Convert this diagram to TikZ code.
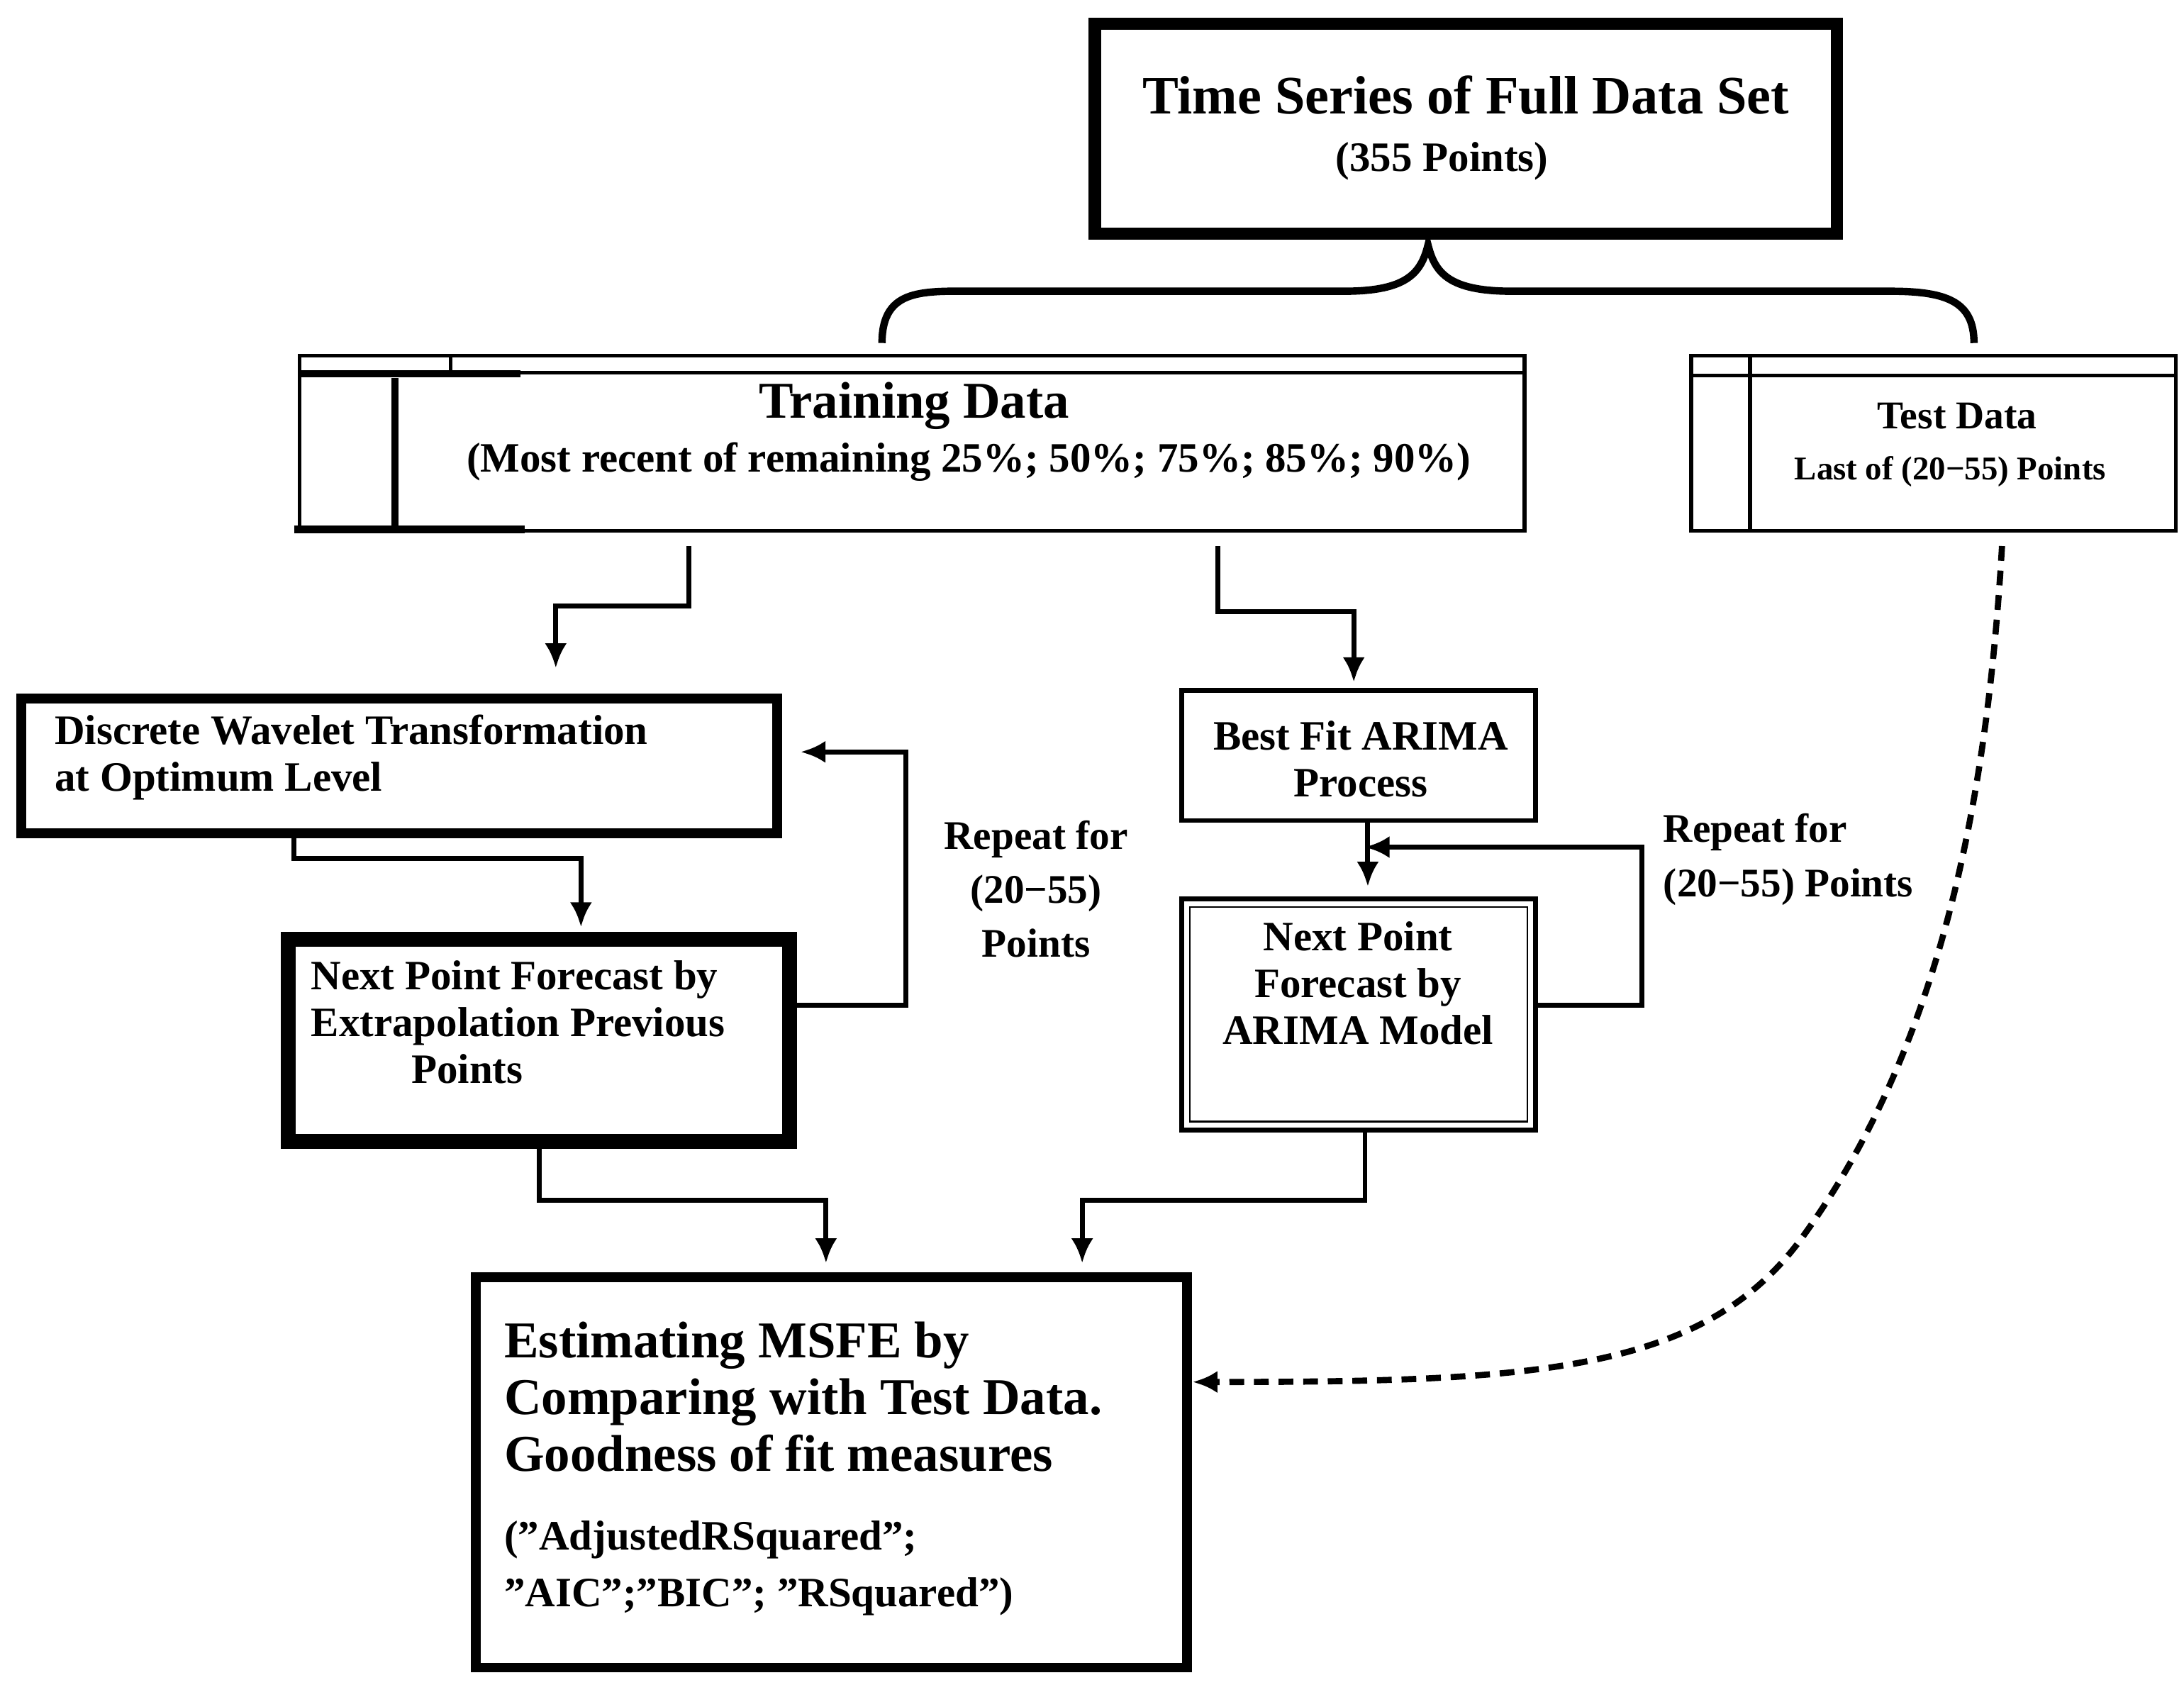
\documentclass[tikz,border=0pt]{standalone}
\usepackage{fontspec}
\setmainfont{Liberation Serif}[Ligatures=ResetAll]
\usetikzlibrary{arrows.meta}
\begin{document}
\begin{tikzpicture}[x=0.02cm,y=-0.02cm,font=\bfseries,
 box/.style={draw,inner sep=0pt,outer sep=0pt,anchor=north west},
 arr/.style={line width=2pt,-{Latex[length=10pt,width=9pt]}},
 ln/.style={line width=2pt}]
\useasboundingbox[fill=white] (0,0) rectangle (1560,1203);
% top box
\node[box,line width=5pt,minimum width=530*0.02cm,minimum height=150*0.02cm] (top) at (782,17) {};
\node[font=\bfseries\fontsize{22}{25}\selectfont] (t1) at (1047,68) {Time Series of Full Data Set};
\node[font=\bfseries\fontsize{17}{20}\selectfont] (t2) at (1030,115) {(355 Points)};
% brace
\draw[line width=3pt] (630,245) .. controls (630,205) and (660,208) .. (700,208) -- (960,208) .. controls (1005,208) and (1015,195) .. (1020,175) .. controls (1025,195) and (1035,208) .. (1080,208) -- (1350,208) .. controls (1390,208) and (1410,215) .. (1410,245);
% training box
\node[box,line width=1.5pt,minimum width=875*0.02cm,minimum height=125*0.02cm] (train) at (214,254) {};
\draw[line width=1.5pt] (214,266) -- (1089,266);
\draw[line width=1.5pt] (322,254) -- (322,266);
\draw[line width=3pt] (213,267) -- (372,267);
\draw[line width=3pt] (210,378) -- (375,378);
\draw[line width=3pt] (282,270) -- (282,378);
\node[font=\bfseries\fontsize{21}{25}\selectfont] (tr1) at (653,290) {Training Data};
\node[font=\bfseries\fontsize{17}{19}\selectfont] (tr2) at (692,330) {(Most recent of remaining 25\%; 50\%; 75\%; 85\%; 90\%)};
% test box
\node[box,line width=1.5pt,minimum width=346*0.02cm,minimum height=125*0.02cm] (test) at (1208,254) {};
\draw[line width=1.5pt] (1208,268) -- (1554,268);
\draw[line width=1.5pt] (1250,254) -- (1250,379);
\node[font=\bfseries\fontsize{16}{19}\selectfont] (te1) at (1398,297) {Test Data};
\node[font=\bfseries\fontsize{13.5}{16}\selectfont] (te2) at (1393,337) {Last of (20−55) Points};
% DWT
\node[box,line width=4pt,minimum width=540*0.02cm,minimum height=96*0.02cm] (dwt) at (15,499) {};
\node[font=\bfseries\fontsize{17}{19}\selectfont,align=left,anchor=west] (dwtt) at (33,541) {Discrete Wavelet Transformation\\at Optimum Level};
% next point DWT
\node[box,line width=6pt,minimum width=358*0.02cm,minimum height=144*0.02cm] (np) at (206,671) {};
\node[font=\bfseries\fontsize{17}{19}\selectfont,align=left,anchor=north west] (npt) at (216,680) {Next Point Forecast by\\Extrapolation Previous\\\hspace{2.4em}Points};
% ARIMA
\node[box,line width=2pt,minimum width=253*0.02cm,minimum height=93*0.02cm] (ar) at (844,493) {};
\node[font=\bfseries\fontsize{17}{19}\selectfont,align=center] (art) at (972,542) {Best Fit ARIMA\\Process};
\node[box,line width=2pt,minimum width=253*0.02cm,minimum height=165*0.02cm] (anp) at (844,642) {};
\draw[line width=0.6pt] (850,648) rectangle (1091,801);
\node[font=\bfseries\fontsize{17}{19}\selectfont,align=center] (anpt) at (970,702) {Next Point\\Forecast by\\ARIMA Model};
% MSFE
\node[box,line width=4pt,minimum width=508*0.02cm,minimum height=279*0.02cm] (ms) at (340,912) {};
\node[font=\bfseries\fontsize{21}{23}\selectfont,align=left,anchor=north west] (mst) at (354,938) {Estimating MSFE by\\Comparing with Test Data.\\Goodness of fit measures};
\node[font=\bfseries\fontsize{17}{23}\selectfont,align=left,anchor=north west] (mst2) at (354,1080) {("AdjustedRSquared";\\"AIC";"BIC"; "RSquared")};
% repeat labels
\node[font=\bfseries\fontsize{16.5}{22}\selectfont,align=center] (r1) at (740,635) {Repeat for\\(20−55)\\Points};
\node[font=\bfseries\fontsize{16.5}{22}\selectfont,align=left,anchor=north west] (r2) at (1182,575) {Repeat for\\(20−55) Points};
% arrows
\draw[arr] (492,390) -- (492,433) -- (397,433) -- (397,477);
\draw[arr] (870,390) -- (870,437) -- (967,437) -- (967,487);
\draw[arr] (210,597) -- (210,613) -- (415,613) -- (415,662);
\draw[arr] (567,718) -- (647,718) -- (647,537) -- (572,537);
\draw[arr] (977,587) -- (977,633);
\draw[arr] (1098,718) -- (1173,718) -- (1173,605) -- (975,605);
\draw[arr] (385,818) -- (385,857) -- (590,857) -- (590,902);
\draw[arr] (975,808) -- (975,857) -- (773,857) -- (773,902);
\draw[line width=2.5pt,dash pattern=on 6pt off 4pt,-{Latex[length=10pt,width=9pt]}] (1430,390) .. controls (1420,560) and (1390,740) .. (1290,880) .. controls (1220,980) and (1100,987) .. (852,987);
\end{tikzpicture}
\end{document}
